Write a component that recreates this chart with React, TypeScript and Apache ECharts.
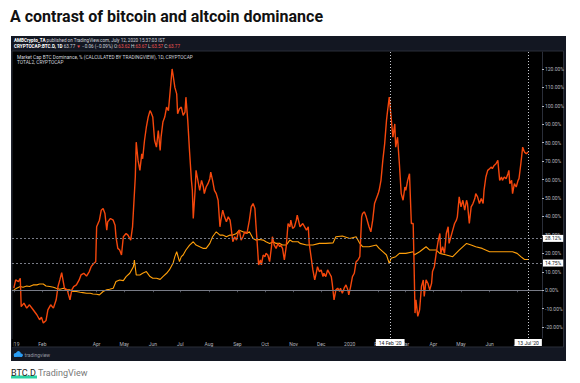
import React, { useEffect, useRef } from 'react';
import * as echarts from 'echarts';

const BASE_UTC = Date.UTC(2019, 0, 1);
const DAY_MS = 86400000;
const AXIS_START = Date.UTC(2018, 11, 30);
const AXIS_END = Date.UTC(2020, 6, 28);

// TOTAL2 (altcoin market cap), % change, sampled days since 2019-01-01
const total2Days = [
  0, 2, 5, 7, 8, 11, 14, 17, 21, 25,
  28, 30, 32, 35, 37, 40, 43, 46, 48, 50,
  52, 54, 55, 58, 61, 63, 65, 68, 71, 73,
  76, 79, 82, 84, 87, 89, 90, 93, 95, 97,
  99, 101, 102, 105, 108, 110, 111, 113, 115, 117,
  119, 122, 124, 127, 129, 130, 132, 133, 135, 137,
  139, 140, 142, 144, 146, 148, 149, 151, 153, 155,
  157, 159, 160, 162, 164, 166, 168, 169, 172, 173,
  175, 177, 178, 180, 182, 184, 186, 187, 189, 191,
  193, 194, 195, 197, 198, 200, 202, 204, 206, 207,
  209, 211, 213, 214, 216, 218, 220, 222, 224, 225,
  227, 229, 231, 233, 235, 236, 238, 240, 242, 244,
  245, 247, 249, 251, 253, 254, 256, 258, 260, 262,
  263, 265, 266, 268, 269, 271, 273, 274, 276, 278,
  280, 281, 283, 285, 287, 289, 290, 292, 294, 296,
  298, 300, 301, 303, 305, 307, 308, 311, 314, 318,
  320, 321, 323, 325, 327, 329, 330, 332, 334, 336,
  337, 339, 341, 343, 345, 346, 348, 350, 352, 354,
  355, 357, 359, 361, 363, 364, 366, 368, 370, 372,
  374, 376, 378, 379, 381, 383, 385, 386, 388, 390,
  392, 394, 396, 397, 399, 401, 403, 405, 406, 408,
  410, 412, 414, 415, 417, 419, 421, 423, 425, 426,
  428, 430, 432, 434, 435, 436, 437, 439, 441, 443,
  445, 446, 448, 450, 452, 454, 455, 457, 459, 461,
  463, 464, 466, 468, 470, 472, 473, 475, 477, 479,
  481, 482, 484, 486, 488, 490, 492, 493, 495, 497,
  499, 501, 502, 504, 506, 508, 510, 511, 513, 515,
  517, 519, 520, 522, 524, 526, 528, 530, 531, 533,
  535, 537, 538, 539, 541, 542, 544, 546, 548, 549,
  551, 553, 555, 557, 559,
];
const total2Pct = [
  1.1, 5.6, 4.7, 6.5, -8.9, -7.0, -9.7, -7.9, -10.6, -13.3,
  -16.0, -14.6, -17.8, -16.4, -10.6, -7.9, -9.7, -5.2, 2.0, 5.6,
  9.5, 3.8, 1.1, 0.2, -5.2, 0.2, 2.0, 2.9, 5.6, 8.3,
  9.2, 7.7, 10.1, 12.8, 14.6, 15.5, 34.4, 38.0, 43.4, 44.3,
  41.6, 32.6, 37.1, 38.9, 38.0, 35.3, 29.0, 22.7, 21.8, 19.1,
  29.0, 30.8, 29.9, 27.2, 34.4, 43.4, 61.4, 80.3, 70.4, 65.0,
  74.0, 71.3, 81.2, 88.4, 93.9, 97.4, 96.5, 93.9, 81.2, 77.6,
  86.6, 75.8, 83.0, 91.2, 93.9, 99.3, 97.4, 102.9, 120.0, 117.0,
  110.0, 106.5, 95.7, 98.4, 99.3, 94.8, 96.6, 104.7, 92.1, 75.0,
  59.6, 54.2, 38.9, 54.2, 65.0, 59.6, 54.2, 59.6, 56.0, 52.4,
  56.0, 57.8, 60.5, 64.1, 59.6, 54.2, 52.4, 48.8, 34.4, 38.0,
  43.4, 39.8, 37.1, 39.8, 38.0, 34.4, 26.3, 29.0, 27.2, 31.7,
  32.6, 27.2, 29.0, 31.7, 30.8, 32.6, 38.0, 45.2, 47.0, 44.3,
  36.2, 21.8, 13.7, 16.4, 13.7, 19.1, 18.2, 20.0, 19.1, 15.5,
  23.6, 29.0, 24.5, 22.7, 25.4, 23.6, 24.5, 22.7, 16.4, 23.6,
  36.2, 34.4, 38.0, 33.5, 34.4, 38.0, 40.7, 34.4, 36.2, 32.6,
  34.4, 25.4, 18.2, 11.0, 5.6, 10.1, 12.8, 10.1, 11.0, 7.4,
  9.2, 7.4, 11.0, 9.2, 7.4, 3.8, -5.2, 0.2, 1.1, -0.7,
  1.1, -1.6, 1.1, 2.9, 0.2, -2.5, 2.0, 7.4, 9.2, 15.5,
  16.4, 18.2, 39.8, 41.6, 42.5, 39.8, 36.2, 34.4, 31.7, 38.0,
  47.0, 49.7, 52.4, 54.2, 59.6, 70.4, 79.4, 92.1, 96.6, 104.7,
  93.8, 83.0, 90.2, 77.6, 83.0, 68.6, 52.4, 48.8, 56.0, 54.2,
  59.6, 63.2, 36.2, 36.2, 12.8, -12.4, -5.2, -14.2, -10.6, 2.0,
  5.6, -3.4, 5.6, 3.8, 0.2, 3.8, 10.1, 12.8, 20.0, 26.3,
  30.8, 20.0, 23.6, 20.0, 30.8, 34.4, 25.4, 29.0, 32.6, 36.2,
  38.0, 39.8, 50.6, 45.2, 48.8, 43.4, 48.8, 47.0, 36.2, 45.2,
  47.0, 49.7, 52.4, 50.6, 47.0, 49.7, 47.0, 54.2, 61.4, 65.0,
  65.9, 66.8, 65.9, 67.7, 68.6, 70.4, 59.6, 61.4, 59.6, 61.4,
  60.5, 63.2, 65.0, 57.8, 59.6, 52.4, 57.8, 56.0, 59.6, 60.5,
  68.6, 77.6, 74.9, 74.0, 75.0,
];

// BTC dominance, % change, sampled days since 2019-01-01
const btcdDays = [
  0, 3, 7, 10, 14, 17, 21, 25, 28, 32,
  35, 39, 43, 46, 50, 54, 57, 61, 64, 68,
  72, 75, 79, 83, 86, 90, 93, 97, 101, 104,
  108, 111, 115, 119, 122, 126, 130, 131, 133, 137,
  140, 144, 148, 151, 155, 159, 162, 166, 169, 173,
  175, 177, 178, 180, 182, 184, 187, 191, 195, 198,
  202, 206, 209, 213, 216, 220, 224, 227, 231, 235,
  238, 242, 245, 249, 253, 256, 260, 263, 267, 271,
  274, 278, 282, 285, 289, 292, 296, 300, 303, 309,
  311, 318, 325, 332, 339, 347, 350, 357, 365, 372,
  376, 379, 386, 394, 397, 401, 405, 408, 410, 415,
  419, 426, 434, 435, 441, 448, 452, 459, 463, 470,
  477, 484, 492, 497, 502, 509, 517, 524, 531, 542,
  547, 551, 555, 559,
];
const btcdPct = [
  0.2, 1.1, 2.0, 1.6, 2.3, 2.0, 2.9, 2.9, 3.4, 3.4,
  2.3, 2.0, 1.6, 1.1, 0.5, 1.1, 0.2, 0.2, -0.7, -0.7,
  -1.1, -1.3, -1.6, -1.6, -2.0, -2.2, -2.5, -0.7, 0.2, 0.5,
  1.1, 4.7, 5.6, 5.2, 7.4, 9.2, 12.8, 16.4, 8.3, 8.3,
  9.2, 10.1, 7.4, 6.5, 6.5, 5.9, 7.4, 9.2, 11.0, 14.6,
  18.2, 20.9, 19.1, 15.5, 18.2, 19.1, 21.8, 24.5, 26.3, 24.5,
  23.6, 22.7, 22.7, 25.4, 29.0, 31.7, 29.9, 29.9, 29.0, 29.9,
  29.9, 30.8, 32.6, 31.7, 30.8, 31.7, 28.1, 27.2, 27.5, 27.2,
  26.3, 25.4, 26.3, 25.4, 25.4, 24.5, 24.5, 27.2, 26.3, 26.3,
  25.4, 24.5, 24.5, 25.4, 25.4, 25.7, 29.0, 29.4, 28.1, 29.0,
  25.4, 23.6, 23.6, 24.5, 22.7, 20.9, 19.1, 14.6, 17.3, 18.2,
  20.0, 20.0, 20.9, 19.1, 20.9, 23.6, 21.8, 21.8, 20.0, 19.1,
  18.2, 21.8, 25.4, 24.5, 23.6, 22.7, 20.9, 20.9, 20.9, 20.9,
  20.0, 18.2, 16.7, 16.71,
];

const levelValues = [28.12, 14.75];
const markerDates = [Date.UTC(2020, 1, 14), Date.UTC(2020, 6, 13)];
const yTickValues = [-20, -10, 0, 10, 20, 30, 40, 50, 60, 70, 80, 90, 100, 110, 120];
const monthNames = ['Jan', 'Feb', 'Mar', 'Apr', 'May', 'Jun', 'Jul', 'Aug', 'Sep', 'Oct', 'Nov', 'Dec'];

const RED = '#f5470c';
const ORANGE = '#ff9f0a';
const AXIS_TEXT = '#b2b5be';
const NAVY = '#131722';

const toSeries = (days: number[], vals: number[]) =>
  days.map((d, i) => [BASE_UTC + d * DAY_MS, vals[i]]);

const fmtMarker = (t: number) => {
  const dt = new Date(t);
  return `${dt.getUTCDate()} ${monthNames[dt.getUTCMonth()]} '${String(dt.getUTCFullYear()).slice(2)}`;
};

const fmtPct = (v: number) => v.toFixed(2) + '%';

export default function App() {
  const ref = useRef<HTMLDivElement>(null);

  useEffect(() => {
    const el = ref.current;
    if (!el) return;
    const chart = echarts.init(el, undefined, { renderer: 'svg' });

    const total2Data = toSeries(total2Days, total2Pct);
    const btcdData = toSeries(btcdDays, btcdPct);
    const lastTotal2 = total2Pct[total2Pct.length - 1];
    const lastBtcd = btcdPct[btcdPct.length - 1];

    const boxLabel = (text: string, bg: string, fg: string) => ({
      show: true,
      position: 'end',
      distance: 1,
      formatter: text,
      backgroundColor: bg,
      color: fg,
      fontSize: 5,
      fontFamily: 'Roboto',
      padding: [1, 2, 1, 2],
    });

    const option: any = {
      animation: false,
      useUTC: true,
      backgroundColor: '#ffffff',
      grid: {
        left: 12,
        right: 38,
        top: 52,
        bottom: 45,
        containLabel: false,
        outerBoundsMode: 'none',
      },
      xAxis: {
        type: 'time',
        min: AXIS_START,
        max: AXIS_END,
        minInterval: 27 * DAY_MS,
        maxInterval: 31 * DAY_MS,
        axisLine: { show: true, lineStyle: { color: '#2a2e39', width: 1 } },
        axisTick: { show: true, length: 2, lineStyle: { color: '#50535e' } },
        splitLine: { show: false },
        axisLabel: {
          show: true,
          fontSize: 5,
          fontFamily: 'Roboto',
          color: AXIS_TEXT,
          margin: 3,
          showMinLabel: false,
          showMaxLabel: false,
          hideOverlap: false,
          formatter: (value: number) => {
            const dt = new Date(value);
            if (dt.getUTCDate() !== 1) return '';
            const m = dt.getUTCMonth();
            const y = dt.getUTCFullYear();
            if (y === 2019 && m === 2) return '';
            return m === 0 ? String(y) : monthNames[m];
          },
        },
      },
      yAxis: {
        type: 'value',
        position: 'right',
        min: -25.9,
        max: 129.2,
        scale: true,
        splitLine: { show: false },
        axisLine: { show: true, lineStyle: { color: '#2a2e39' } },
        axisTick: { show: true, length: 2, customValues: yTickValues, lineStyle: { color: AXIS_TEXT } },
        axisLabel: {
          customValues: yTickValues,
          formatter: (v: number) => fmtPct(v),
          fontSize: 5,
          fontFamily: 'Roboto',
          color: AXIS_TEXT,
          margin: 3,
        },
      },
      series: [
        {
          name: 'Market Cap BTC Dominance',
          type: 'line',
          data: btcdData,
          showSymbol: false,
          symbol: 'none',
          z: 3,
          lineStyle: { color: ORANGE, width: 1.1 },
          markLine: {
            silent: true,
            symbol: ['none', 'none'],
            animation: false,
            data: [
              { yAxis: 0, lineStyle: { type: 'solid', color: '#787b86', width: 1 }, label: { show: false } },
              ...levelValues.map((v) => ({
                yAxis: v,
                lineStyle: { type: [2, 2], color: '#787b86', width: 1 },
                label: boxLabel(fmtPct(v), '#ffffff', '#131722'),
              })),
              ...markerDates.map((t) => ({
                xAxis: t,
                lineStyle: { type: [1, 2], color: '#c8cad0', width: 1 },
                label: { ...boxLabel(fmtMarker(t), '#ffffff', '#131722'), position: 'start', padding: [1, 3, 1, 3] },
              })),
              {
                yAxis: lastBtcd,
                lineStyle: { opacity: 0, width: 0 },
                label: boxLabel(fmtPct(lastBtcd), ORANGE, '#ffffff'),
              },
              {
                yAxis: lastTotal2,
                lineStyle: { opacity: 0, width: 0 },
                label: boxLabel(fmtPct(lastTotal2), RED, '#ffffff'),
              },
            ],
          },
        },
        {
          name: 'TOTAL2',
          type: 'line',
          data: total2Data,
          showSymbol: false,
          symbol: 'none',
          z: 4,
          lineStyle: { color: RED, width: 1.4 },
        },
      ],
      graphic: [
        { type: 'rect', z: -20, silent: true, shape: { x: 11, y: 36, width: 555, height: 325 }, style: { fill: NAVY } },
        {
          type: 'rect', z: -19, silent: true,
          shape: { x: 12, y: 51, width: 551.5, height: 296 },
          style: { fill: '#000000', stroke: '#2a2e39', lineWidth: 1 },
        },
        {
          type: 'text', x: 10, y: 16, silent: true,
          style: {
            text: 'A contrast of bitcoin and altcoin dominance',
            fontSize: 16, fontWeight: 'bold', fontFamily: 'Roboto', fill: '#111111', verticalAlign: 'middle',
          },
        },
        {
          type: 'text', x: 14, y: 40.5, silent: true,
          style: {
            text: '{b|AMBCrypto_TA} published on TradingView.com, July 12, 2020 15:37:03 IST',
            fontSize: 4.6, fontFamily: 'Roboto', fill: '#d1d4dc', verticalAlign: 'middle',
            rich: { b: { fontSize: 4.6, fontWeight: 'bold', fill: '#ffffff', fontFamily: 'Roboto' } },
          },
        },
        {
          type: 'text', x: 14, y: 46.3, silent: true,
          style: {
            text: '{b|CRYPTOCAP:BTC.D, 1D} 63.77 {r|▼} −0.06 (−0.09%) O:{r|63.62} H:{r|63.67} L:{r|63.57} C:{r|63.77}',
            fontSize: 4.6, fontFamily: 'Roboto', fill: '#d1d4dc', verticalAlign: 'middle',
            rich: {
              b: { fontSize: 4.6, fontWeight: 'bold', fill: '#ffffff', fontFamily: 'Roboto' },
              r: { fontSize: 4.6, fill: '#ef5350', fontFamily: 'Roboto' },
            },
          },
        },
        {
          type: 'text', x: 17, y: 57.5, silent: true,
          style: {
            text: 'Market Cap BTC Dominance, % (CALCULATED BY TRADINGVIEW), 1D, CRYPTOCAP',
            fontSize: 4.8, fontFamily: 'Roboto', fill: '#d1d4dc', verticalAlign: 'middle',
          },
        },
        {
          type: 'text', x: 17, y: 62.5, silent: true,
          style: { text: 'TOTAL2, CRYPTOCAP', fontSize: 4.8, fontFamily: 'Roboto', fill: '#d1d4dc', verticalAlign: 'middle' },
        },
        // cover the left part of the first time label (it is clipped by the frame)
        { type: 'rect', z: 100, silent: true, shape: { x: 0, y: 339, width: 11, height: 8 }, style: { fill: '#ffffff' } },
        { type: 'rect', z: 100, silent: true, shape: { x: 11, y: 339, width: 1, height: 8 }, style: { fill: NAVY } },
        { type: 'rect', z: 100, silent: true, shape: { x: 12, y: 339, width: 1.5, height: 8 }, style: { fill: '#000000' } },
        // TradingView logo
        { type: 'circle', silent: true, shape: { cx: 15.6, cy: 355, r: 1.9 }, style: { fill: '#2a9df4' } },
        { type: 'circle', silent: true, shape: { cx: 18.4, cy: 353.6, r: 2.5 }, style: { fill: '#2a9df4' } },
        { type: 'circle', silent: true, shape: { cx: 21.2, cy: 355.2, r: 1.7 }, style: { fill: '#2a9df4' } },
        { type: 'rect', silent: true, shape: { x: 14, y: 355, width: 8, height: 1.9 }, style: { fill: '#2a9df4' } },
        {
          type: 'text', x: 24.5, y: 354.5, silent: true,
          style: { text: 'tradingview', fontSize: 5, fontFamily: 'Roboto', fill: '#9598a1', verticalAlign: 'middle' },
        },
        // caption
        { type: 'rect', silent: true, shape: { x: 11, y: 375.5, width: 26, height: 3 }, style: { fill: '#2bd3a3' } },
        {
          type: 'text', x: 11, y: 373, silent: true,
          style: {
            text: '{b|BTC.D} TradingView',
            fontSize: 9, fontFamily: 'Roboto', fill: '#777777', verticalAlign: 'middle',
            rich: { b: { fontSize: 9, fontFamily: 'Roboto', fill: '#222222' } },
          },
        },
      ],
    };

    chart.setOption(option);
    return () => chart.dispose();
  }, []);

  return (
    <div
      ref={ref}
      style={{ position: 'fixed', left: 0, top: 0, width: 580, height: 383, background: '#ffffff' }}
    />
  );
}
